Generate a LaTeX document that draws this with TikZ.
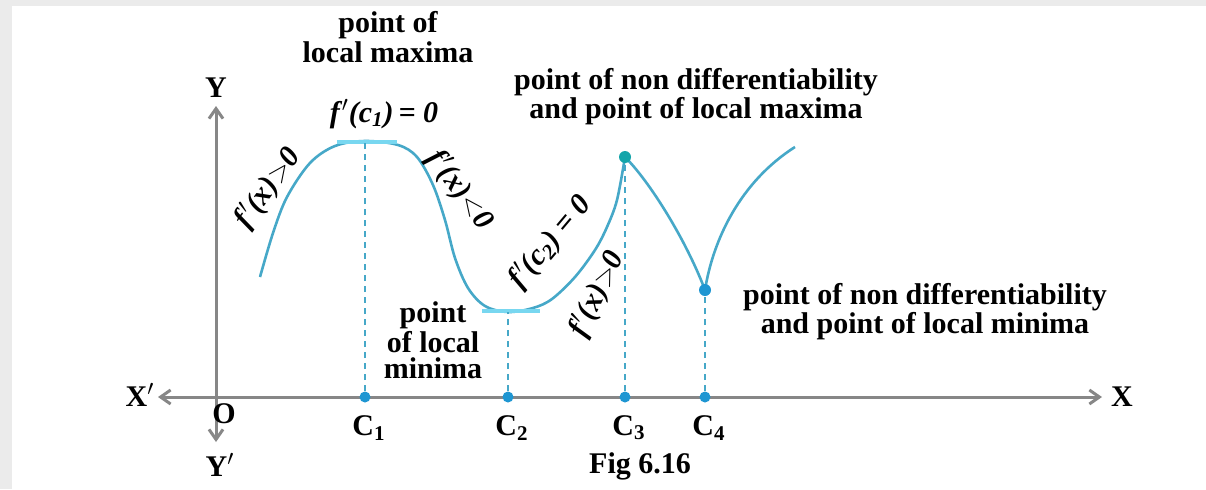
\documentclass[tikz,border=0pt]{standalone}
\usepackage{fontspec}
\setmainfont{Liberation Serif}
\definecolor{curveblue}{RGB}{70,168,200}
\definecolor{tanblue}{RGB}{120,215,240}
\definecolor{dotblue}{RGB}{30,150,210}
\definecolor{dotteal}{RGB}{20,165,170}
\definecolor{axisgray}{RGB}{135,135,135}
\usetikzlibrary{arrows.meta}

\begin{document}
\begin{tikzpicture}[x=0.5pt,y=-0.5pt,
  lbl/.style={font=\fontsize{15}{14.5}\selectfont\bfseries,align=center,inner sep=1pt},
  slope/.style={font=\fontsize{15}{15}\selectfont\bfseries\itshape,inner sep=1pt},
  axis/.style={axisgray,line width=1.5pt},
  dropline/.style={curveblue,line width=1pt,dash pattern=on 3pt off 2.5pt},
  dot/.style={circle,fill=dotblue,inner sep=0pt,minimum size=5.5pt}]
  \useasboundingbox (0,0) rectangle (1206,489);
  % Frame
  \fill[black!8] (0,0) rectangle (1206,489);
  \fill[white] (12,6) rectangle (1206,489);
  % Axes
  \coordinate (O) at (216,397);
  \coordinate (xl) at (158,397);
  \coordinate (xr) at (1102,397);
  \coordinate (yt) at (216,106);
  \coordinate (yb) at (216,442);
  \draw[axis,-{Straight Barb[length=5pt,width=7pt]}] (O) -- (xr);
  \draw[axis,-{Straight Barb[length=5pt,width=7pt]}] (O) -- (xl);
  \draw[axis,-{Straight Barb[length=5pt,width=7pt]}] (O) -- (yt);
  \draw[axis,-{Straight Barb[length=5pt,width=7pt]}] (O) -- (yb);
  \node[lbl] at (1122,397) {X};
  \node[lbl] at (140,395) {X$'$};
  \node[lbl] at (216,88) {Y};
  \node[lbl] at (220,465) {Y$'$};
  \node[lbl] at (224,414) {O};
  % Curve
  \draw[curveblue,line width=1.3pt] plot[smooth,tension=0.55] coordinates {
    (260,277) (273,233) (287,197) (310,163) (335,146) (365,141) (398,145)
    (417,157) (433,185) (445,220) (455,258) (468,288) (485,306) (508,312)
    (533,308) (552,299) (575,277) (595,250) (607,227) (617,200) (625,157)};
  \draw[curveblue,line width=1.3pt] (625,157) .. controls (650,182) and (686,240) .. (705,290);
  \draw[curveblue,line width=1.3pt] (705,290) .. controls (713,240) and (740,182) .. (795,147);
  % Tangents
  \draw[tanblue,line width=1.6pt] (337,142) -- (397,142);
  \draw[tanblue,line width=1.6pt] (482,311) -- (540,311);
  % Points on the curve
  \coordinate (m1) at (365,141);
  \coordinate (m2) at (508,312);
  \node[circle,fill=dotteal,inner sep=0pt,minimum size=6pt] (p3) at (625,157) {};
  \node[dot,minimum size=6pt] (p4) at (705,290) {};
  % Points on the x axis
  \node[dot] (c1) at (365,397) {};
  \node[dot] (c2) at (508,397) {};
  \node[dot] (c3) at (625,397) {};
  \node[dot] (c4) at (705,397) {};
  \draw[dropline] (c1) -- (m1);
  \draw[dropline] (c2) -- (m2);
  \draw[dropline] (c3) -- (p3);
  \draw[dropline] (c4) -- (p4);
  \node[lbl] at (369,428) {C\textsubscript{1}};
  \node[lbl] at (512,428) {C\textsubscript{2}};
  \node[lbl] at (629,428) {C\textsubscript{3}};
  \node[lbl] at (709,428) {C\textsubscript{4}};
  % Labels
  \node[lbl,font=\fontsize{15}{15}\selectfont\bfseries] at (388,37) {point of\\local maxima};
  \node[slope] at (384,114) {f\kern1pt$'$(c\textsubscript{1})\,= 0};
  \node[lbl] at (696,97) {point of non differentiability\\and point of local maxima};
  \node[lbl] at (925,312) {point of non differentiability\\and point of local minima};
  \node[lbl,font=\fontsize{15}{13}\selectfont\bfseries] at (433,340) {point\\of local\\minima};
  \node[slope,rotate=54] at (268,188) {f\kern1pt$'$(x)$>$0};
  \node[slope,rotate=-53] at (460,190) {f\kern1pt$'$(x)$<$0};
  \node[slope,rotate=50] at (550,242) {f\kern1pt$'$(c\textsubscript{2}) = 0};
  \node[slope,rotate=64] at (597,294) {f\kern1pt$'$(x)$>$0};
  \node[lbl] at (640,466) {Fig 6.16};
\end{tikzpicture}
\end{document}
